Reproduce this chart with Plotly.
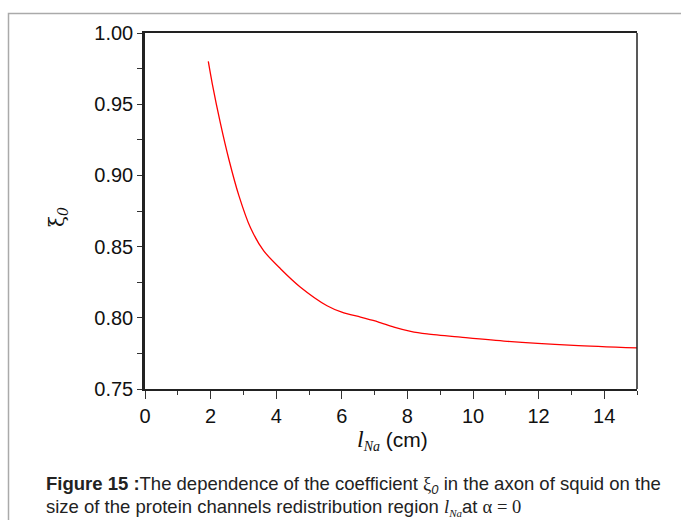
import plotly.graph_objects as go

# Data
l_na = [1.93, 2.05, 2.30, 2.56, 2.86, 3.22, 3.62, 4.13, 4.74, 5.55, 6.00, 6.57, 7.10, 7.59, 8.10, 8.60, 9.62, 11.04, 13.07, 15.0]
xi0 = [0.980, 0.9645, 0.9365, 0.911, 0.886, 0.863, 0.847, 0.8345, 0.8215, 0.8085, 0.8040, 0.8005, 0.7972, 0.7935, 0.7905, 0.7887, 0.7864, 0.7835, 0.7807, 0.7789]

x_ticks = [0, 2, 4, 6, 8, 10, 12, 14]
y_ticks = [0.75, 0.80, 0.85, 0.90, 0.95, 1.00]

W, H = 681, 520
ML, MR, MT, MB = 145, 44, 33, 131
PW, PH = W - ML - MR, H - MT - MB

def px(x):
    return (x - ML) / PW

def py(y):
    return (H - MB - y) / PH

fig = go.Figure()
fig.add_trace(go.Scatter(x=l_na, y=xi0, mode="lines", line=dict(color="#ff0000", width=1.3, shape="spline", smoothing=0.8),
                         showlegend=False, hoverinfo="skip"))

font_main = "Liberation Sans, Arial, sans-serif"
fig.update_layout(
    width=W, height=H,
    margin=dict(l=ML, r=MR, t=MT, b=MB),
    paper_bgcolor="white", plot_bgcolor="white",
    font=dict(family=font_main, size=20, color="#111"),
    xaxis=dict(range=[0, 15], tickvals=x_ticks, ticktext=[str(v) for v in x_ticks],
               ticks="outside", ticklen=8, tickwidth=1.3, tickcolor="#333",
               minor=dict(dtick=1, tick0=0, ticks="outside", ticklen=4, tickwidth=1.3, tickcolor="#333"),
               showline=True, linewidth=1.5, linecolor="#222", mirror=True,
               showgrid=False, zeroline=False, tickfont=dict(size=20)),
    yaxis=dict(range=[0.75, 1.0], tickvals=y_ticks, ticktext=["%.2f" % v for v in y_ticks],
               ticks="outside", ticklen=5, tickwidth=1.3, tickcolor="#333",
               minor=dict(dtick=0.025, tick0=0.75, ticks="outside", ticklen=5, tickwidth=1.3, tickcolor="#333"),
               showline=True, linewidth=2.5, linecolor="#222", mirror=False,
               showgrid=False, zeroline=False, tickfont=dict(size=20)),
)

# right frame line
fig.add_shape(type="line", xref="paper", yref="paper", x0=1, x1=1, y0=0, y1=1,
              line=dict(color="#222", width=1.5))
# outer light border
fig.add_shape(type="rect", xref="paper", yref="paper", x0=px(8.5), x1=px(700), y0=py(13.5), y1=py(560),
              line=dict(color="#aaaaaa", width=1.5), layer="below")

# axis titles
fig.add_annotation(xref="paper", yref="paper", x=px(392), y=py(440), xanchor="center", yanchor="middle",
                   text="<i><span style='font-family:Liberation Serif, Times New Roman, serif;font-size:24px'>l</span></i>"
                        "<sub><i><span style='font-family:Liberation Serif, Times New Roman, serif;font-size:14px'>Na</span></i></sub>"
                        " (cm)",
                   showarrow=False, font=dict(size=21, family=font_main, color="#111"))
fig.add_annotation(xref="paper", yref="paper", x=px(58), y=py(217), xanchor="center", yanchor="middle",
                   text="ξ<sub><i>0</i></sub>", textangle=-90, showarrow=False,
                   font=dict(size=20, family="DejaVu Serif, serif", color="#111"))

# caption
fig.add_annotation(xref="paper", yref="paper", x=px(44), y=py(485), xanchor="left", yanchor="middle",
                   text="<b>Figure 15 :</b>The dependence of the coefficient "
                        "<span style='font-family:Liberation Serif, serif'>ξ</span><sub><i>0</i></sub>"
                        " in the axon of squid on the",
                   showarrow=False, font=dict(size=18.5, family=font_main, color="#222"), align="left")
fig.add_annotation(xref="paper", yref="paper", x=px(44), y=py(507), xanchor="left", yanchor="middle",
                   text="size of the protein channels redistribution region "
                        "<i><span style='font-family:Liberation Serif, serif'>l</span></i>"
                        "<sub><i><span style='font-family:Liberation Serif, serif;font-size:11px'>Na</span></i></sub>"
                        "at <span style='font-family:Liberation Serif, serif'>α = 0</span>",
                   showarrow=False, font=dict(size=18.5, family=font_main, color="#222"), align="left")

fig.write_html("out.html")
